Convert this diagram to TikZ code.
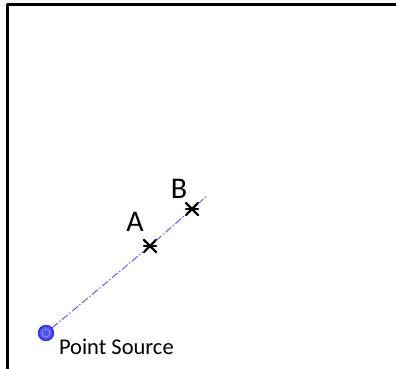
\documentclass[tikz,border=0pt]{standalone}
\usepackage{fontspec}
\setmainfont{Carlito}
\usetikzlibrary{shapes.misc}
\definecolor{srcblue}{RGB}{50,50,235}
\definecolor{rayblue}{RGB}{95,95,240}

\begin{document}
\begin{tikzpicture}[x=1pt,y=-1pt, line join=round, line cap=round]
	\tikzset{xmark/.style={cross out, draw, line width=2.2pt, minimum size=10pt, inner sep=0pt},
		lbl/.style={font=\fontsize{30}{32}\selectfont}}
	\useasboundingbox (0,0) rectangle (396,368);
	\draw[line width=3pt] (7,372) |- (400,4); % frame
	\node[circle, draw=srcblue, fill=srcblue!85, line width=1.4pt, minimum size=15pt, inner sep=0pt] (src) at (46,333) {};
	\node[circle, draw=srcblue!45, line width=0.7pt, minimum size=8pt, inner sep=0pt] at (src) {};
	\node[xmark] (ptA) at (150,246) {};
	\node[xmark] (ptB) at (192,209) {};
	\draw[line width=2pt] (ptA.west) -- (ptA.east);
	\draw[line width=2pt] (ptB.west) -- (ptB.east);
	\coordinate (rayend) at (207,196);
	\draw[rayblue, line width=1pt, dash pattern=on 7pt off 2.5pt on 1pt off 2.5pt] (src) -- (ptA) -- (ptB) -- (rayend);
	\node[lbl] (labA) at (135,222) {A};
	\node[lbl] (labB) at (179,189) {B};
	\node[anchor=base west, font=\fontsize{22.5}{24}\selectfont] (srclbl) at (55.5,354) {Point Source};
\end{tikzpicture}
\end{document}
